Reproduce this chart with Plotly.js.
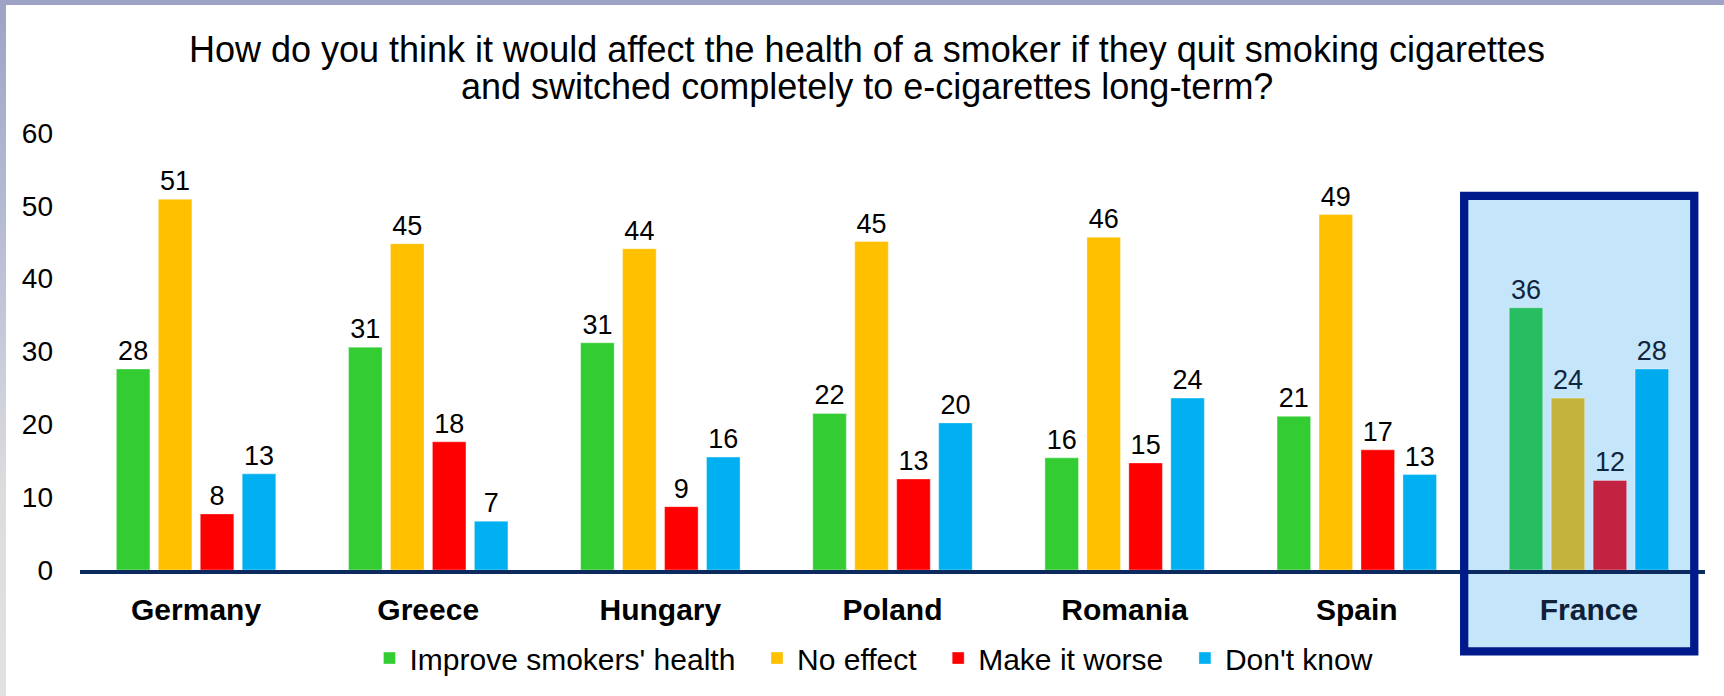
<!DOCTYPE html>
<html>
<head>
<meta charset="utf-8">
<script src="https://cdn.plot.ly/plotly-3.0.1.min.js"></script>
<style>
  html, body { margin: 0; padding: 0; width: 1724px; height: 696px; overflow: hidden; }
  body { background: linear-gradient(to bottom, #9EA3C6 0%, #B9BED6 35%, #DCDCDE 70%, #E2E2E2 100%); position: relative; }
  #chart { position: absolute; left: 6px; top: 5px; width: 1718px; height: 691px; background: #fff; }
</style>
</head>
<body>
<div id="chart"></div>
<script>
// ---- data ----
const categories = ['Germany', 'Greece', 'Hungary', 'Poland', 'Romania', 'Spain', 'France'];
const seriesNames = ["Improve smokers' health", 'No effect', 'Make it worse', "Don't know"];

const improveValues  = [27.6, 30.6, 31.2, 21.5, 15.4, 21.1, 36.0];
const noEffectValues = [50.9, 44.8, 44.1, 45.1, 45.7, 48.8, 23.6];
const worseValues    = [7.7, 17.6, 8.7, 12.5, 14.7, 16.5, 12.3];
const dontKnowValues = [13.2, 6.7, 15.5, 20.2, 23.6, 13.1, 27.6];

const improveLabels  = [28, 31, 31, 22, 16, 21, 36];
const noEffectLabels = [51, 45, 44, 45, 46, 49, 24];
const worseLabels    = [8, 18, 9, 13, 15, 17, 12];
const dontKnowLabels = [13, 7, 16, 20, 24, 13, 28];

const yTickVals = [0, 10, 20, 30, 40, 50, 60];
const highlighted = 'France';
const titleLine1 = 'How do you think it would affect the health of a smoker if they quit smoking cigarettes';
const titleLine2 = 'and switched completely to e-cigarettes long-term?';

// ---- styling ----
const baseColors = ['#33CC33', '#FFC000', '#FF0000', '#00B0F0'];
const highlightColors = ['#27BE62', '#C2B43C', '#C22340', '#00AAEF'];
const labelColor = '#000000';
const highlightLabelColor = '#0F2540';
const FONT = 'Liberation Sans, Arial, Helvetica, sans-serif';
const PAD = '\u00A0\u00A0'; // extra spacing between legend entries

const valueSets = [improveValues, noEffectValues, worseValues, dontKnowValues];
const labelSets = [improveLabels, noEffectLabels, worseLabels, dontKnowLabels];

const traces = valueSets.map((vals, i) => ({
  type: 'bar',
  name: seriesNames[i] + (i < 3 ? PAD : ''),
  x: categories,
  y: vals,
  text: labelSets[i].map(String),
  texttemplate: '%{text}',
  textposition: 'outside',
  constraintext: 'none',
  cliponaxis: false,
  textfont: {
    family: FONT, size: 27,
    color: categories.map(c => c === highlighted ? highlightLabelColor : labelColor)
  },
  marker: {
    color: categories.map(c => c === highlighted ? highlightColors[i] : baseColors[i]),
    line: { width: 0.6, color: 'rgba(255,255,255,0.6)' }
  },
  hoverinfo: 'x+y+name'
}));

const ticktext = categories.map(c => c === highlighted
  ? '<span style="color:#0F2138">' + c + '</span>' : c);

// plot area in container px: left 74, right 19, top 128.3, bottom 123.5
const layout = {
  width: 1718, height: 691,
  paper_bgcolor: '#ffffff',
  plot_bgcolor: 'rgba(0,0,0,0)',
  margin: { l: 74, r: 19, t: 128.3, b: 123.5, pad: 0 },
  title: {
    text: titleLine1,
    font: { family: FONT, size: 36, color: '#000' },
    xref: 'paper', x: 0.4843, xanchor: 'center',
    yref: 'container', y: 0.9356, yanchor: 'middle'
  },
  annotations: [{
    text: titleLine2,
    font: { family: FONT, size: 36, color: '#000' },
    xref: 'paper', x: 0.4843, xanchor: 'center',
    yref: 'paper', y: 1.1054, yanchor: 'middle',
    showarrow: false
  }],
  barmode: 'group',
  bargap: 0.277,
  bargroupgap: 0.2,
  showlegend: true,
  legend: {
    orientation: 'h',
    x: 0.4886, xanchor: 'center',
    y: -0.2015, yanchor: 'middle',
    font: { family: FONT, size: 30, color: '#000' },
    bgcolor: 'rgba(0,0,0,0)',
    traceorder: 'normal',
    itemclick: false
  },
  xaxis: {
    type: 'category',
    tickmode: 'array',
    tickvals: categories,
    ticktext: ticktext,
    tickfont: { family: FONT, size: 30, color: '#000', weight: 'bold' },
    showline: true, linecolor: '#0D2A5E', linewidth: 4,
    ticks: '', showgrid: false, zeroline: false,
    ticklabelstandoff: 10,
    fixedrange: true
  },
  yaxis: {
    range: [0, 60],
    tickmode: 'array',
    tickvals: yTickVals,
    tickfont: { family: FONT, size: 28, color: '#000' },
    showline: false, showgrid: false, zeroline: false, ticks: '',
    ticklabelstandoff: 26,
    fixedrange: true
  },
  shapes: [
    { // highlight fill
      type: 'rect', xref: 'paper', yref: 'paper',
      x0: 0.8518, x1: 0.9934, y0: -0.186, y1: 0.8559,
      fillcolor: '#C5E5FA', line: { width: 0 }, layer: 'below'
    },
    { // highlight border
      type: 'rect', xref: 'paper', yref: 'paper',
      x0: 0.8518, x1: 0.9934, y0: -0.186, y1: 0.8559,
      fillcolor: 'rgba(0,0,0,0)', line: { width: 8.3, color: '#001A8C' }, layer: 'above'
    }
  ]
};

Plotly.newPlot('chart', traces, layout, { displayModeBar: false, staticPlot: true });
</script>
</body>
</html>
